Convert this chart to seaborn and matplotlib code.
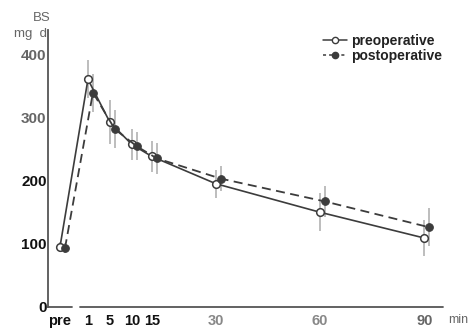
import numpy as np
import pandas as pd
import matplotlib
matplotlib.use("Agg")
import matplotlib.pyplot as plt
import matplotlib.transforms as mtransforms
from matplotlib.lines import Line2D
import seaborn as sns

# ---- data (minutes; "pre" drawn at -6 on the time axis) ----
time_labels = ["pre", "1", "5", "10", "15", "30", "60", "90"]
minutes = [-6, 1, 5, 10, 15, 30, 60, 90]
pre_op = [95, 360, 292, 257, 238, 195, 150, 109]
pre_err = [8, 30, 35, 25, 25, 22, 30, 28]
post_op = [93, 339, 281, 254, 235, 203, 167, 126]
post_err = [8, 30, 30, 22, 25, 20, 25, 30]

sns.set_style("white")
plt.rcParams["font.family"] = ["Liberation Sans", "DejaVu Sans"]

fig = plt.figure(figsize=(4.71, 3.29), dpi=100)
ax = fig.add_axes([48 / 471, 1 - 307 / 329, (443 - 48) / 471, (307 - 30) / 329])

# piecewise-linear time scale (as in the original figure)
knots_m = np.array([-10.0, -6.0, 1.0, 5.0, 10.0, 15.0, 30.0, 60.0, 90.0, 100.0])
knots_p = np.array([48.0, 60.0, 88.0, 110.0, 132.0, 152.0, 216.0, 320.0, 425.0, 460.0])

def fwd(x):
    return np.interp(x, knots_m, knots_p)

def inv(p):
    return np.interp(p, knots_p, knots_m)

ax.set_xscale("function", functions=(fwd, inv))

df = pd.DataFrame({"min": minutes, "pre": pre_op, "post": post_op})
line_col = "#3c3c3c"
err_col = "#b8b8b8"

shift = mtransforms.offset_copy(ax.transData, fig=fig, x=5, y=0, units="dots")

# error bars
ax.vlines(minutes, np.array(pre_op) - np.array(pre_err), np.array(pre_op) + np.array(pre_err),
          colors=err_col, linewidth=1.3, zorder=1)
ax.vlines(minutes, np.array(post_op) - np.array(post_err), np.array(post_op) + np.array(post_err),
          colors=err_col, linewidth=1.3, zorder=1, transform=shift)

sns.lineplot(data=df, x="min", y="pre", ax=ax, color=line_col, linewidth=1.2,
             marker="o", markersize=5.5, markerfacecolor="white",
             markeredgecolor=line_col, markeredgewidth=1.1, zorder=3)
sns.lineplot(data=df, x="min", y="post", ax=ax, color=line_col, linewidth=1.3,
             linestyle=(0, (5, 3)), marker="o", markersize=5.5,
             markerfacecolor=line_col, markeredgecolor=line_col, zorder=4)
ax.lines[-1].set_transform(shift)

ax.set_xlim(-10, 95.3)
ax.set_ylim(0, 438)
ax.set_xlabel("")
ax.set_ylabel("")

# axes styling
for s in ["top", "right", "bottom"]:
    ax.spines[s].set_visible(False)
ax.spines["left"].set_color("#555555")
ax.spines["left"].set_linewidth(1.3)

# broken x axis
ax.axhline(0, xmin=0, xmax=(72 - 48) / 395, color="#555555", linewidth=1.3, clip_on=False)
ax.axhline(0, xmin=(80 - 48) / 395, xmax=1, color="#555555", linewidth=1.3, clip_on=False)

ax.set_yticks([0, 100, 200, 300, 400])
ax.set_yticklabels(["0", "100", "200", "300", "400"])
ax.tick_params(axis="y", direction="in", length=3, width=1, color="#666666", pad=1,
               labelsize=11)
for lab, c in zip(ax.get_yticklabels(), ["#111111", "#111111", "#111111", "#666666", "#666666"]):
    lab.set_fontweight("bold")
    lab.set_color(c)

ax.set_xticks(minutes)
ax.set_xticklabels(time_labels)
ax.tick_params(axis="x", direction="in", length=3, width=1, color="#777777", pad=5,
               labelsize=10.5)
for lab, c in zip(ax.get_xticklabels(),
                  ["#111111", "#111111", "#111111", "#111111", "#111111", "#888888", "#888888", "#666666"]):
    lab.set_fontweight("bold")
    lab.set_color(c)
ax.xaxis.get_major_ticks()[0].tick1line.set_visible(False)

fig.text(448 / 471, 1 - 320 / 329, "min", fontsize=9, color="#666666", va="center", ha="left")
fig.text(42 / 471, 1 - 18 / 329, "BS", fontsize=9.5, color="#666666", va="center", ha="center")
fig.text(30 / 471, 1 - 34 / 329, "mg  d", fontsize=9.5, color="#666666", va="center", ha="center")

handles = [
    Line2D([], [], color=line_col, linewidth=1.1, marker="o", markersize=4.5,
           markerfacecolor="white", markeredgecolor=line_col),
    Line2D([], [], color=line_col, linewidth=1.1, linestyle=(0, (2, 2)), marker="o", markersize=4.5,
           markerfacecolor=line_col, markeredgecolor=line_col),
]
leg = ax.legend(handles, ["preoperative", "postoperative"], loc="upper left",
                bbox_to_anchor=(316 / 471, 1 - 27 / 329), bbox_transform=fig.transFigure,
                frameon=False, handlelength=1.7, handletextpad=0.35, labelspacing=0.1,
                prop={"weight": "bold", "size": 10}, borderpad=0)
for t in leg.get_texts():
    t.set_color("#222222")

fig.savefig("out.png", dpi=100)
